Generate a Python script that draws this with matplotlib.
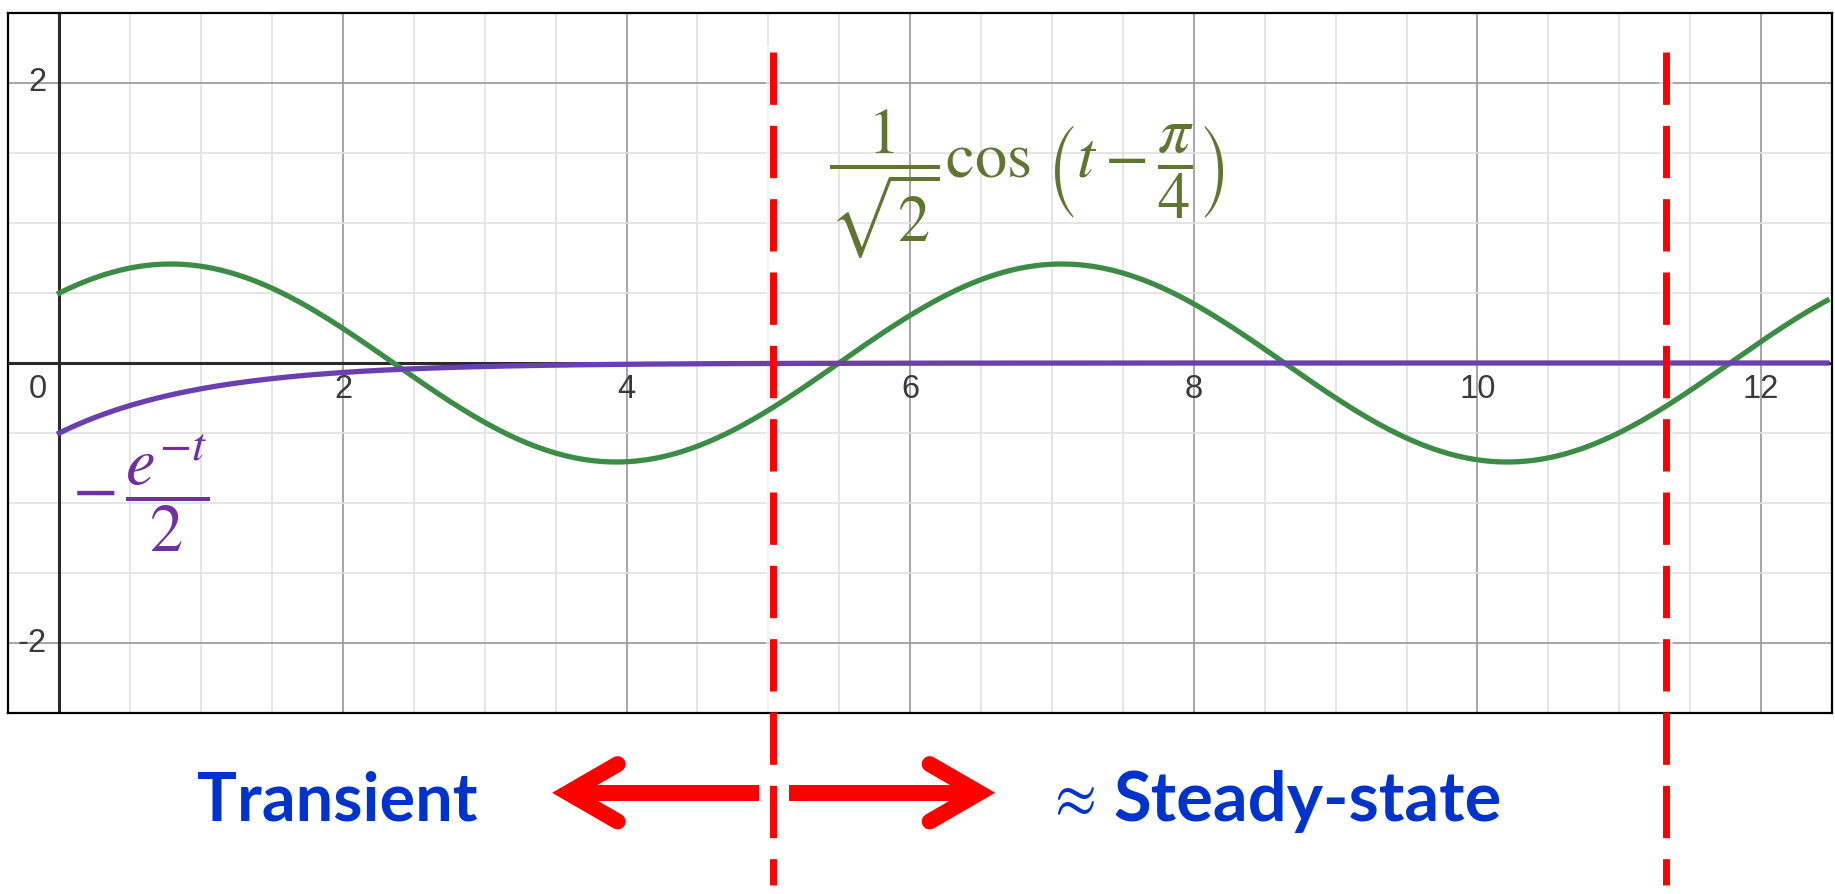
import numpy as np
import matplotlib
matplotlib.use("Agg")
import matplotlib.pyplot as plt

# curves shown in the chart (labels give the formulas)
amp_ss = 1 / np.sqrt(2)     # steady-state amplitude
phase_ss = np.pi / 4        # phase lag
amp_tr = -0.5               # transient coefficient
t_start = 0.0

x_ticks = [2, 4, 6, 8, 10, 12]
x_tick_labels = ["2", "4", "6", "8", "10", "12"]
y_ticks = [2, -2]
y_tick_labels = ["2", "-2"]
boundaries = [5.03, 11.33]   # red dashed lines

xlim = (-0.362, 12.465)
ylim = (-2.458, 2.465)

plt.rcParams['lines.scale_dashes'] = False
plt.rcParams['mathtext.fontset'] = 'stix'

fig = plt.figure(figsize=(18.35, 8.94), dpi=100)
ax = fig.add_axes([0.00436, 0.20246, 0.99401, 0.78300])
ax.set_xlim(xlim)
ax.set_ylim(ylim)

# grid
ax.set_xticks(np.arange(0, 12.6, 2))
ax.set_xticks(np.arange(-0, 12.6, 0.5), minor=True)
ax.set_yticks([-2, 0, 2])
ax.set_yticks(np.arange(-2.5, 2.6, 0.5), minor=True)
ax.grid(which='minor', color='#e0e0e0', lw=1.2, zorder=0)
ax.grid(which='major', color='#9e9e9e', lw=1.3, zorder=0)
ax.tick_params(which='both', length=0, labelbottom=False, labelleft=False)
ax.set_axisbelow(True)
for s in ax.spines.values():
    s.set_linewidth(1.6)
    s.set_color('black')

# axes lines
ax.axhline(0, color='#2a2a2a', lw=2.2, zorder=1)
ax.axvline(0, color='#2a2a2a', lw=2.2, zorder=1)

# tick labels drawn inside the plot
tick_kw = dict(fontsize=23.5, family='Liberation Sans', color='#3a3a3a', zorder=2)
for xv, lab in zip(x_ticks, x_tick_labels):
    ax.text(xv, -0.186, lab, ha='center', va='center', **tick_kw)
ax.text(-0.088, -0.186, "0", ha='right', va='center', **tick_kw)
for yv, lab in zip(y_ticks, y_tick_labels):
    ax.text(-0.088, yv, lab, ha='right', va='center', **tick_kw)

# curves
t = np.linspace(t_start, xlim[1], 600)
ax.plot(t, amp_ss * np.cos(t - phase_ss), color='#3d8c46', lw=3.8, zorder=3)
ax.plot(t, amp_tr * np.exp(-t), color='#6a3fb0', lw=3.8, zorder=3)

# labels of the curves
ax.text(5.43, 1.28, r'$\dfrac{1}{\sqrt{2}}\cos\,\left(t-\dfrac{\pi}{4}\right)$',
        color='#5e7630', fontsize=46.5, ha='left', va='center', zorder=4)
ax.text(0.088, -0.93, r'$-\,\dfrac{e^{-t}}{2}$', color='#7030a0', fontsize=48,
        ha='left', va='center', zorder=4)

# red dashed boundaries, running below the frame
for xb in boundaries:
    ax.plot([xb, xb], [ylim[0], 2.219], color='white', lw=10, alpha=0.6, zorder=2)
    ax.plot([xb, xb], [2.219, -3.73], color='red', lw=5.0,
            linestyle=(0, (37.7, 15.1)), clip_on=False, zorder=5)

# arrows under the plot
y_arr = -3.07
dxh, dyh = 0.35, 0.205
left_tip, left_tail = 3.587, 4.933
right_tip, right_tail = 6.487, 5.144
for tip, tail, sgn in [(left_tip, left_tail, 1), (right_tip, right_tail, -1)]:
    ax.plot([tip, tail], [y_arr, y_arr], color='red', lw=11.5,
            solid_capstyle='butt', clip_on=False, zorder=5)
    ax.plot([tip + sgn * dxh, tip, tip + sgn * dxh],
            [y_arr + dyh, y_arr, y_arr - dyh], color='red', lw=11.5,
            solid_capstyle='round', solid_joinstyle='miter', clip_on=False, zorder=5)

ax.text(1.96, -3.27, "Transient", color='#0033cc', fontsize=48, fontweight='bold',
        family='Lato', ha='center', va='baseline', clip_on=False)
ax.text(7.13, -3.115, r'$\approx$', color='#0033cc', fontsize=44,
        ha='center', va='center', clip_on=False)
ax.text(8.8, -3.27, "Steady-state", color='#0033cc', fontsize=49.5, fontweight='bold',
        family='Lato', ha='center', va='baseline', clip_on=False)

fig.savefig("out.png", dpi=100, facecolor='white')
